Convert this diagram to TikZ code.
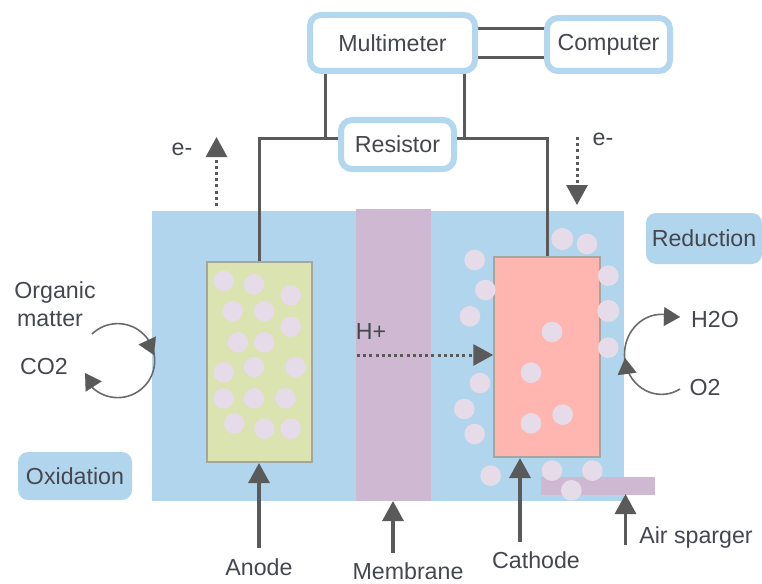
\documentclass[tikz,border=0pt]{standalone}
\usepackage{fontspec}
\setmainfont{Liberation Sans}
\usetikzlibrary{arrows.meta,calc}
\definecolor{boxblue}{HTML}{B3D7EF}
\definecolor{tankblue}{HTML}{B2D5EE}
\definecolor{wiregray}{HTML}{5A5A5A}
\definecolor{inktext}{HTML}{45474F}
\definecolor{memb}{HTML}{CFB9D2}
\definecolor{anodegreen}{HTML}{DBE3B0}
\definecolor{cathodepink}{HTML}{FFB6B0}
\definecolor{bubble}{HTML}{E6DBE8}
\definecolor{edgegray}{HTML}{A6A6A0}
\tikzset{
  lab/.style={text=inktext,font=\fontsize{23.2}{26}\selectfont,inner sep=0pt,align=center},
  device/.style={lab,draw=boxblue,line width=6pt,fill=white,rounded corners=11pt},
  tag/.style={lab,fill=tankblue,rounded corners=10pt},
  plate/.style={draw=edgegray,line width=1.5pt,inner sep=0pt},
  wire/.style={draw=wiregray,line width=3pt},
  pointer/.style={draw=wiregray,line width=3.2pt,-{Triangle[length=20pt,width=21pt,fill=wiregray]}},
  dotarrow/.style={draw=wiregray,line width=3pt,dash pattern=on 3pt off 3.2pt,-{Triangle[length=20pt,width=21pt,fill=wiregray]}},
  cyc/.style={draw=wiregray!90,line width=1.6pt},
  cychead/.style={draw=wiregray,line width=0.1pt,-{Triangle[length=16pt,width=19pt,fill=wiregray]}},
}
\begin{document}
\begin{tikzpicture}[x=1pt,y=-1pt]
\useasboundingbox (0,0) rectangle (762,583);
% tank
\fill[tankblue] (152,211) rectangle (624,501);
\node[fill=memb,inner sep=0pt,minimum width=75pt,minimum height=292pt] (membrane) at (393.5,355) {};
\node[plate,fill=anodegreen,minimum width=105pt,minimum height=200pt] (anode) at (259.5,362) {};
\node[plate,fill=cathodepink,minimum width=106pt,minimum height=200pt] (cathode) at (547,357) {};
\node[fill=memb,inner sep=0pt,minimum width=114pt,minimum height=18pt] (sparger) at (597.5,485.5) {};
% wires
\draw[wire] (476,29) -- (546,29);
\draw[wire] (476,57.5) -- (546,57.5);
\draw[wire] (325.5,72) -- (325.5,138.5);
\draw[wire] (464,72) -- (464,138.5);
% boxes
\node[device,minimum width=165pt,minimum height=56pt] (multimeter) at (392.5,43) {Multimeter};
\node[device,minimum width=123pt,minimum height=53pt] (computer) at (608.5,44.5) {Computer};
\node[device,minimum width=113pt,minimum height=49pt] (resistor) at (397.5,144.5) {Resistor};
\node[tag,minimum width=114pt,minimum height=48pt] (oxidation) at (75,476) {Oxidation};
\node[tag,minimum width=116pt,minimum height=51pt] (reduction) at (704,238.5) {Reduction};
% labels
\node[lab] (organic) at (55,292) {Organic};
\node[lab] (matter) at (50,319) {matter};
\node[lab] (co2) at (44,367) {CO2};
\node[lab] (h2o) at (715,320) {H2O};
\node[lab] (o2) at (705,388) {O2};
\node[lab] (hplus) at (371,332) {H+};
\node[lab] (eleft) at (182,149) {e-};
\node[lab] (eright) at (603,139) {e-};
\node[lab] (anodelab) at (259,567) {Anode};
\node[lab] (memblab) at (408,571) {Membrane};
\node[lab] (cathlab) at (536,560) {Cathode};
\node[lab] (airlab) at (696,537) {Air sparger};
% resistor wires
\draw[wire] (resistor.west |- 0,138.5) -- (259,138.5) -- (anode.north -| 259,0);
\draw[wire] (resistor.east |- 0,138.5) -- (547,138.5) -- (cathode.north);
% bubbles anode
\foreach \zx/\zy in {671/93,762/103,872/136,698/183,793/183,872/230,714/277,793/277,671/367,762/351,887/351,671/445,762/445,856/445,703/520,793/536,872/536}
  \fill[bubble] ({\zx/3},{250+\zy/3}) circle[radius=10.3pt];
% bubbles cathode
\foreach \zx/\zy/\r in {367/87/11,441/102/10.3,104/150/10.3,136/240/10.3,505/197/10.3,505/303/11,90/319/10.3,336/366/10.3,505/413/10.3,273/488/10.3,120/519/10.3,73/597/10.3,368/614/10.3,273/640/10.3,104/672/10.3,152/797/10.3,336/782/10.3,457/782/10.3,394/841/10.3}
  \fill[bubble] ({440+\zx/3},{210+\zy/3}) circle[radius=\r pt];
% arrows
\coordinate (eupfrom) at (216.5,206);
\coordinate (eupto) at (216.5,137);
\draw[dotarrow] (eupfrom) -- (eupto);
\coordinate (edownfrom) at (577,137);
\coordinate (edownto) at (577,205);
\draw[dotarrow] (edownfrom) -- (edownto);
\draw[dotarrow] (357,355) -- (cathode.west |- 0,355);
\draw[pointer] (259,548) -- (259,463);
\draw[pointer] (393,553) -- (393,501);
\draw[pointer] (520,542) -- (520,458);
\draw[pointer] (625.5,545) -- (625.5,494);
% cycles
\draw[cyc] (92,334) arc[start angle=134,end angle=-134,radius=37pt];
\draw[cychead] (147.5,341) -- (154,355);
\draw[cychead] (94,387) -- (85,373);
\draw[cyc] (680,389) arc[start angle=-60,end angle=-277,x radius=37pt,y radius=40pt];
\draw[cychead] (627,373) -- (625,358);
\draw[cychead] (663,316.5) -- (680,317);
\end{tikzpicture}
\end{document}
